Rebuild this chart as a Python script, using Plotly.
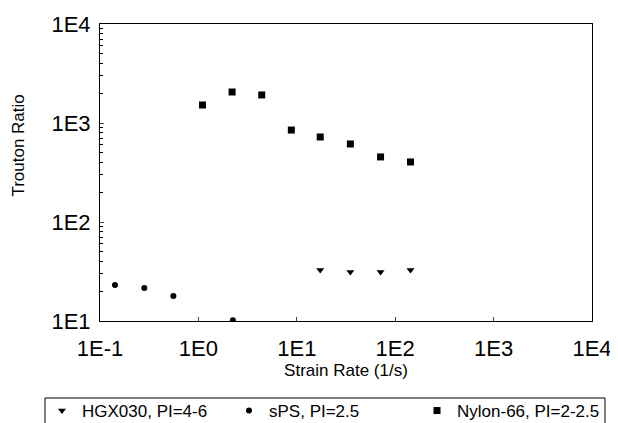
import plotly.graph_objects as go

# data
hgx_x = [17.3, 35, 71, 143]
hgx_y = [32.7, 31.3, 31.3, 32.7]

sps_x = [0.142, 0.282, 0.557, 2.24]
sps_y = [23.1, 21.5, 17.9, 10.2]

nylon_x = [1.10, 2.2, 4.4, 8.8, 17.3, 35, 71, 143]
nylon_y = [1520, 2056, 1920, 849, 722, 614, 454, 404]

tick_vals = [0.1, 1, 10, 100, 1000, 10000]
x_tick_text = ["1E-1", "1E0", "1E1", "1E2", "1E3", "1E4"]
y_tick_vals = [10, 100, 1000, 10000]
y_tick_text = ["1E1", "1E2", "1E3", "1E4"]

# minor tick positions on the y axis (2..9 in each decade)
y_minor = [m * 10 ** d for d in range(1, 4) for m in range(2, 10)]

fig = go.Figure()
fig.add_trace(go.Scatter(
    x=hgx_x, y=hgx_y, mode="markers", name="HGX030, PI=4-6", legend="legend",
    marker=dict(symbol="triangle-down", size=7, color="black")
))
fig.add_trace(go.Scatter(
    x=sps_x, y=sps_y, mode="markers", name="sPS, PI=2.5", legend="legend2",
    marker=dict(symbol="circle", size=6, color="black")
))
fig.add_trace(go.Scatter(
    x=nylon_x, y=nylon_y, mode="markers", name="Nylon-66, PI=2-2.5", legend="legend3",
    marker=dict(symbol="square", size=7, color="black")
))

axis_font = dict(family="Liberation Sans, Arial", size=22, color="black")


def legend_at(x):
    # one legend per series so the entries sit where the reference has them
    return dict(
        orientation="h", xref="container", yref="container",
        x=x, y=0.0723, xanchor="left", yanchor="top",
        borderwidth=0, bgcolor="rgba(0,0,0,0)", itemwidth=30,
        font=dict(size=17),
    )


# the page body adds an 8px offset, so the figure is 8px smaller than the window
fig.update_layout(
    width=610, height=415,
    margin=dict(l=92, r=26, t=16, b=102, autoexpand=False),
    paper_bgcolor="white", plot_bgcolor="white",
    font=dict(family="Liberation Sans, Arial", size=17, color="black"),
    showlegend=True,
    legend=legend_at(0.0557),
    legend2=legend_at(0.3623),
    legend3=legend_at(0.6705),
    xaxis=dict(
        type="log", range=[-1, 4],
        tickvals=tick_vals, ticktext=x_tick_text, tickfont=axis_font,
        ticks="inside", ticklen=4, showgrid=False, zeroline=False,
        showline=True, linecolor="black", linewidth=1, mirror=True,
        ticklabelstandoff=8,
        title=dict(text="Strain Rate (1/s)", font=dict(size=17), standoff=0),
    ),
    yaxis=dict(
        type="log", range=[1, 4],
        tickvals=y_tick_vals, ticktext=y_tick_text, tickfont=axis_font,
        ticks="inside", ticklen=4, showgrid=False, zeroline=False,
        showline=True, linecolor="black", linewidth=1, mirror=True,
        ticklabelstandoff=4,
        minor=dict(tickmode="array", tickvals=y_minor, ticks="inside",
                   ticklen=3, tickcolor="black", showgrid=False),
    ),
    annotations=[dict(
        text="Trouton Ratio", textangle=-90, showarrow=False,
        xref="paper", yref="paper", x=-0.165, y=0.59,
        xanchor="center", yanchor="middle", font=dict(size=17),
    )],
    # legend frame (runs off the bottom of the page as in the reference)
    shapes=[dict(
        type="rect", xref="paper", yref="paper",
        x0=-0.1118, x1=1.0264, y0=-0.2593, y1=-0.40,
        line=dict(color="black", width=1), fillcolor="rgba(0,0,0,0)",
    )],
)

fig.write_html("out.html")
